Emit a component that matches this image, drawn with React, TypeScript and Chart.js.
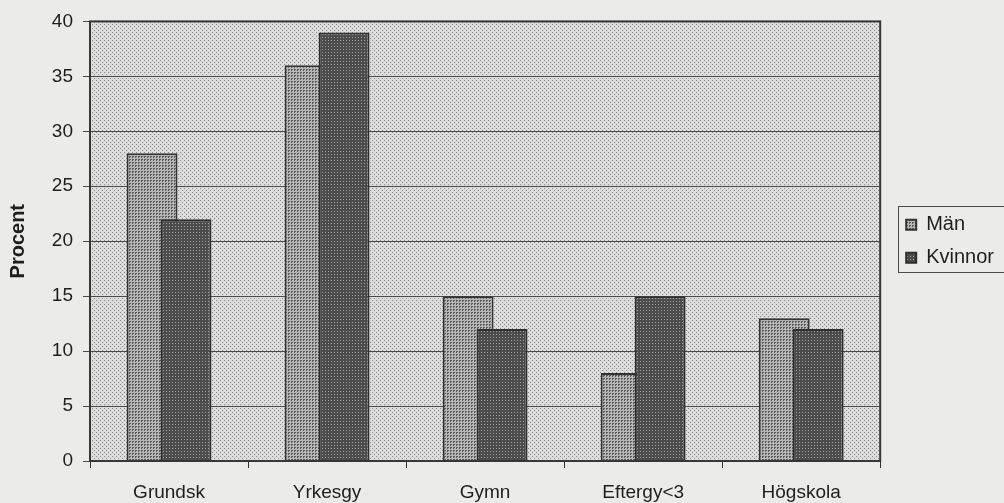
import React, { useEffect, useRef } from 'react';
import { Chart, registerables } from 'chart.js';

Chart.register(...registerables);

const categories = ['Grundsk', 'Yrkesgy', 'Gymn', 'Eftergy<3', 'Högskola'];
const seriesNames = ['Män', 'Kvinnor'];
const manValues = [28, 36, 15, 8, 13];
const kvinnorValues = [22, 39, 12, 15, 12];
const yMin = 0;
const yMax = 40;
const yStep = 5;
const yTitle = 'Procent';

const FONT = "'Liberation Sans', Arial, Helvetica, sans-serif";
const PAGE_BG = '#ebebe9';
const TEXT = '#1e1e1e';

function makePattern(ctx: CanvasRenderingContext2D, size: number, base: string, dot: string, dots: number[][]) {
  const c = document.createElement('canvas');
  c.width = size;
  c.height = size;
  const g = c.getContext('2d')!;
  g.fillStyle = base;
  g.fillRect(0, 0, size, size);
  g.fillStyle = dot;
  for (const [x, y] of dots) g.fillRect(x, y, 1, 1);
  return ctx.createPattern(c, 'repeat')!;
}

export default function App() {
  const canvasRef = useRef<HTMLCanvasElement | null>(null);

  useEffect(() => {
    const canvas = canvasRef.current;
    if (!canvas) return;
    const ctx = canvas.getContext('2d')!;

    const plotPattern = makePattern(ctx, 4, '#dcdcdc', '#8a8a8a', [[0, 0], [2, 2]]);
    const manPattern = makePattern(ctx, 3, '#b6b6b6', '#5c5c5c', [[0, 0], [1, 0], [0, 1]]);
    const kvinnorPattern = makePattern(ctx, 3, '#4c4c4c', '#a0a0a0', [[1, 1]]);

    const backgroundPlugin = {
      id: 'plotBackground',
      beforeDraw(chart: any) {
        const { ctx: c, chartArea: a, width, height } = chart;
        c.save();
        c.fillStyle = PAGE_BG;
        c.fillRect(0, 0, width, height);
        c.fillStyle = plotPattern;
        c.fillRect(a.left, a.top, a.right - a.left, a.bottom - a.top);
        c.restore();
      },
    };

    const frontPlugin = {
      id: 'kvinnorFront',
      beforeDatasetDraw(chart: any, args: any) {
        if (args.index === 1 && !chart.$front) return false;
        return true;
      },
      afterDatasetsDraw(chart: any) {
        const meta = chart.getDatasetMeta(1);
        if (!meta.hidden) {
          chart.$front = true;
          meta.controller.draw();
          chart.$front = false;
        }
        const { ctx: c, chartArea: a } = chart;
        c.save();
        c.strokeStyle = '#363636';
        c.lineWidth = 2;
        c.strokeRect(a.left, a.top, a.right - a.left, a.bottom - a.top);
        c.restore();
      },
    };

    const legendBoxPlugin = {
      id: 'legendBox',
      afterDraw(chart: any) {
        const lg = chart.legend;
        if (!lg || !lg.legendHitBoxes || lg.legendHitBoxes.length < 2) return;
        const hb = lg.legendHitBoxes;
        const c = chart.ctx;
        const left = hb[0].left - 8;
        const top = hb[0].top - 9;
        const bottom = hb[hb.length - 1].top + hb[hb.length - 1].height + 4;
        c.save();
        c.strokeStyle = '#4a4a4a';
        c.lineWidth = 1;
        c.strokeRect(Math.round(left) + 0.5, Math.round(top) + 0.5, chart.width + 10 - left, bottom - top);
        c.restore();
      },
    };

    const chart = new Chart(canvas, {
      type: 'bar',
      data: {
        labels: categories,
        datasets: [
          {
            label: seriesNames[0],
            data: manValues,
            backgroundColor: manPattern,
            borderColor: '#333333',
            borderWidth: 2,
            categoryPercentage: 0.43,
            barPercentage: 1.5,
            yAxisID: 'y',
          },
          {
            label: seriesNames[1],
            data: kvinnorValues,
            backgroundColor: kvinnorPattern,
            borderColor: '#2e2e2e',
            borderWidth: 2,
            categoryPercentage: 0.43,
            barPercentage: 1.5,
            yAxisID: 'y',
          },
        ],
      },
      options: {
        animation: false,
        responsive: true,
        maintainAspectRatio: false,
        events: [],
        layout: { padding: { top: 20, left: 0, right: 0, bottom: 0 } },
        plugins: {
          tooltip: { enabled: false },
          legend: {
            position: 'right',
            align: 'center',
            fullSize: false,
            labels: {
              boxWidth: 10,
              boxHeight: 10,
              padding: 13,
              color: TEXT,
              font: { family: FONT, size: 20 },
            },
          },
        },
        scales: {
          x: {
            grid: {
              display: true,
              drawOnChartArea: false,
              drawTicks: true,
              tickLength: 7,
              color: '#333333',
              offset: true,
            },
            border: { display: false },
            ticks: { padding: 13, color: TEXT, font: { family: FONT, size: 19 } },
            afterFit: (s: any) => {
              s.height = 42;
            },
          },
          y: {
            min: yMin,
            max: yMax,
            ticks: { stepSize: yStep, padding: 10, color: TEXT, font: { family: FONT, size: 19 } },
            grid: { color: '#4a4a4a', lineWidth: 1, tickLength: 7, drawTicks: true },
            border: { display: false },
            title: {
              display: true,
              text: yTitle,
              color: TEXT,
              font: { family: FONT, size: 20, weight: 'bold' },
              padding: { top: 6, bottom: 12 },
            },
            afterFit: (s: any) => {
              s.width = 90;
            },
          },
          spacer: {
            type: 'linear',
            axis: 'y',
            position: 'right',
            display: true,
            ticks: { display: false },
            grid: { display: false, drawTicks: false },
            border: { display: false },
            afterFit: (s: any) => {
              s.width = 13;
            },
          },
        },
      } as any,
      plugins: [backgroundPlugin, frontPlugin, legendBoxPlugin],
    });

    return () => {
      chart.destroy();
    };
  }, []);

  return (
    <div
      style={{
        position: 'fixed',
        left: 0,
        top: 0,
        width: 1004,
        height: 503,
        background: PAGE_BG,
      }}
    >
      <canvas ref={canvasRef} />
    </div>
  );
}
